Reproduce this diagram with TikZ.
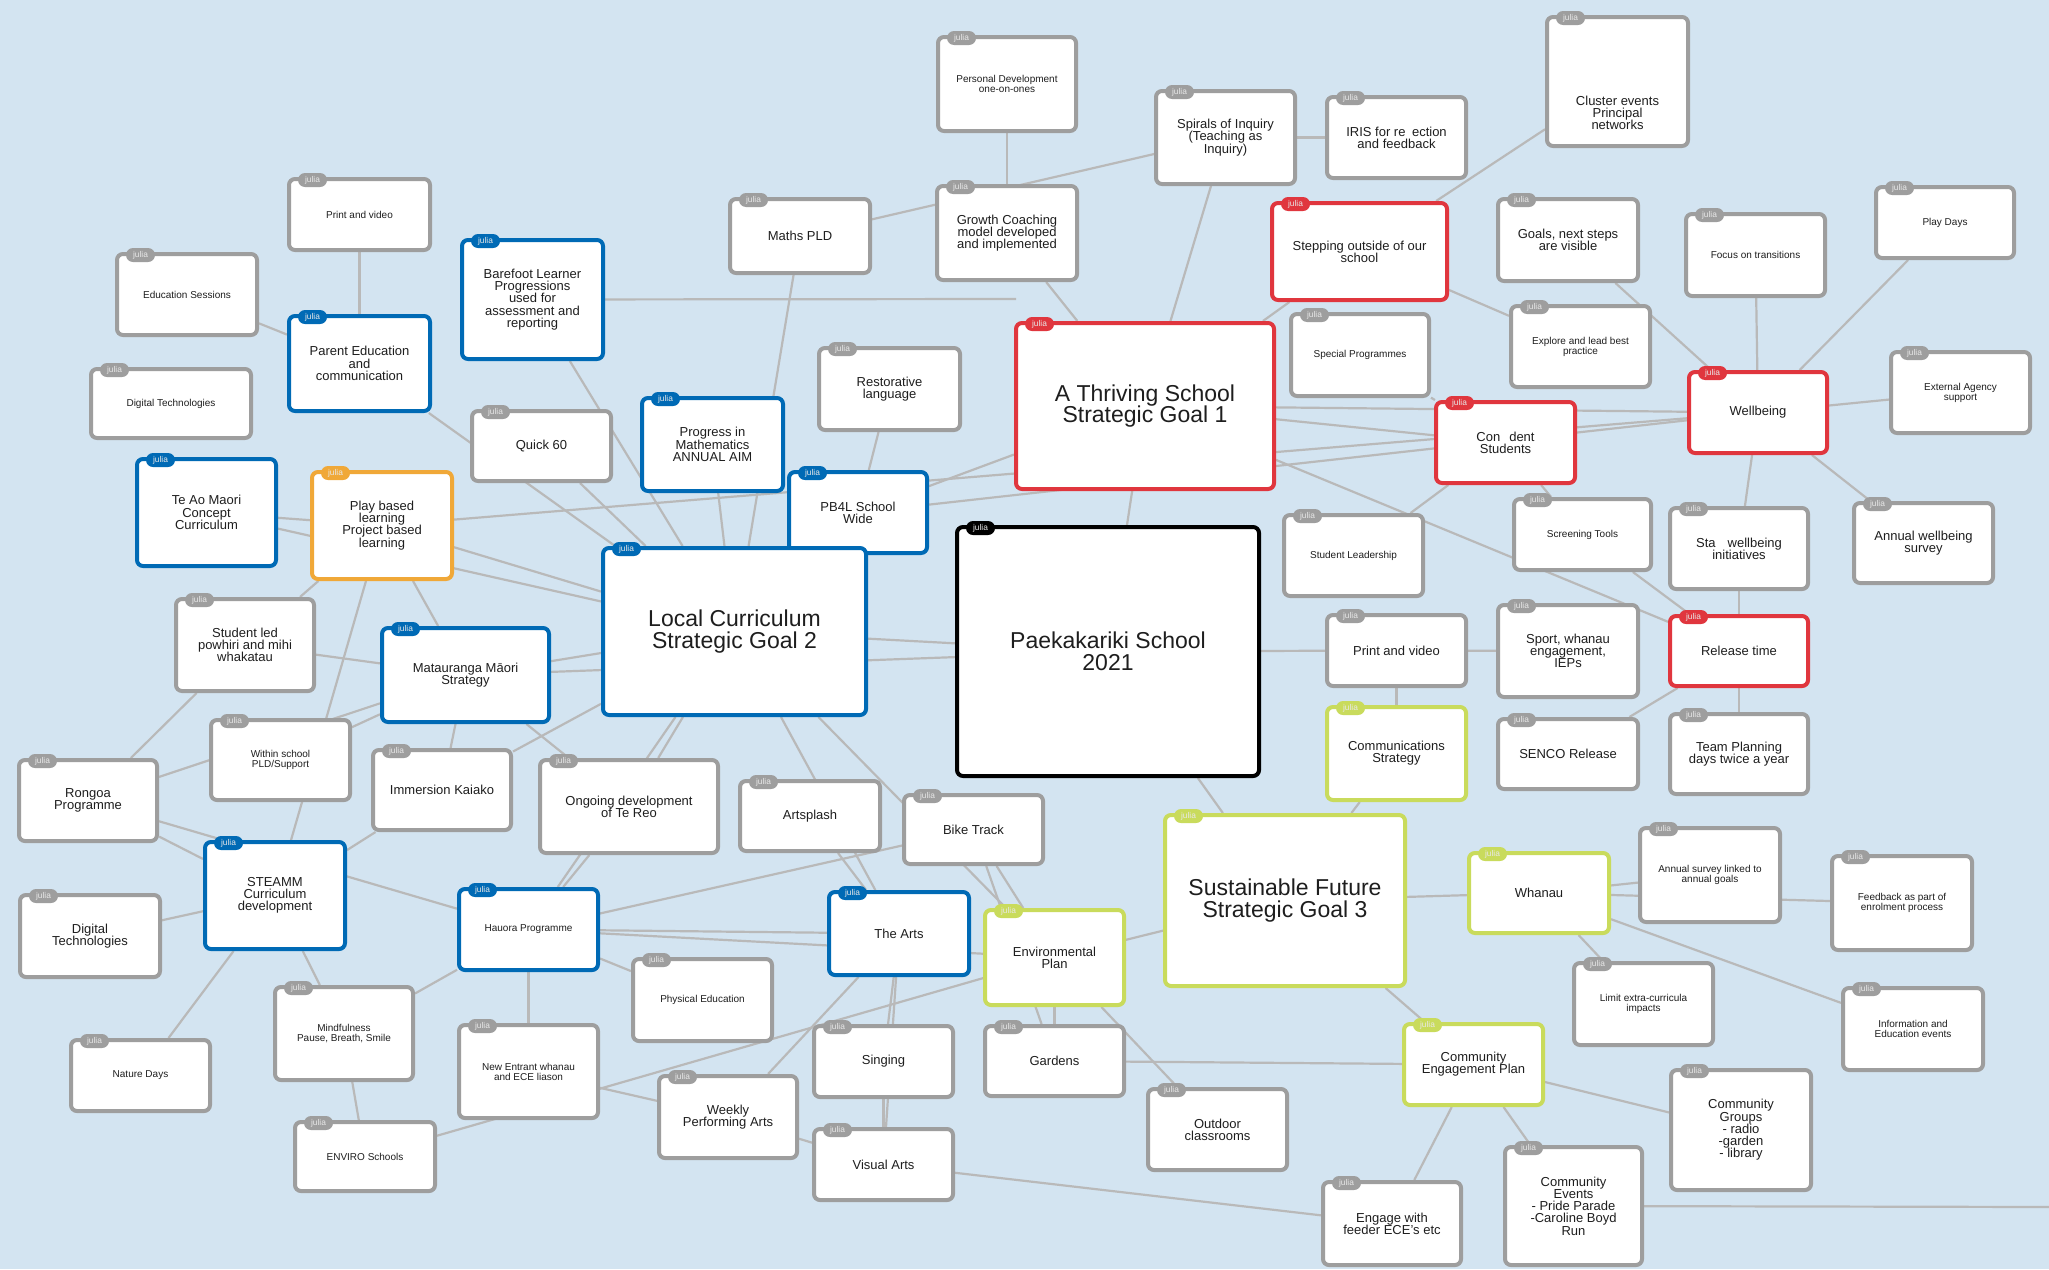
\documentclass[tikz,border=0pt]{standalone}
\usepackage{fontspec}
\setmainfont{Liberation Sans}
\usetikzlibrary{backgrounds}
\definecolor{bgblue}{HTML}{D3E4F1}
\definecolor{linkgrey}{HTML}{B9B9B9}
\definecolor{cardgrey}{HTML}{9E9E9E}
\definecolor{cardblue}{HTML}{006AB5}
\definecolor{cardred}{HTML}{E0363E}
\definecolor{cardorange}{HTML}{F0A838}
\definecolor{cardlime}{HTML}{C9DB5C}
\definecolor{cardblack}{HTML}{000000}
\definecolor{ink}{HTML}{1E1E1E}
\definecolor{tagtext}{HTML}{E8E8E8}

\begin{document}
\begin{tikzpicture}[x=1pt, y=-1pt,
					card/.style={draw=#1, fill=white, line width=4pt, rounded corners=6pt, align=center,
						text=ink, inner sep=2pt, label={[tagpill=#1]north west:julia}},
					tagpill/.style={fill=#1, text=tagtext, font=\fontsize{8.4}{8.4}\selectfont,
						rounded corners=7pt, minimum width=29pt, minimum height=14pt, inner sep=0pt,
						anchor=center, xshift=25.5pt, yshift=-3pt},
					gcard/.style={card=cardgrey},
					bcard/.style={card=cardblue},
					rcard/.style={card=cardred},
					ocard/.style={card=cardorange},
					lcard/.style={card=cardlime},
					kcard/.style={card=cardblack},
					txts/.style={font=\fontsize{10}{10}\selectfont},
					txtm/.style={font=\fontsize{13}{12.2}\selectfont},
					txtl/.style={font=\fontsize{23}{21.5}\selectfont},
					link/.style={draw=linkgrey, line width=2.2pt}]
				\useasboundingbox (0,0) rectangle (2049,1269);
				\node[gcard, txts, minimum width=141, minimum height=71] (pvtl) at (359.5,214.5) {Print and video};
				\node[gcard, txts, minimum width=140, minimum height=81] (edsess) at (187,294.5) {Education Sessions};
				\node[gcard, txts, minimum width=160, minimum height=69] (digtop) at (171,403.5) {Digital Technologies};
				\node[bcard, txtm, minimum width=141, minimum height=95] (parent) at (359.5,363.5) {Parent Education\\and\\communication};
				\node[bcard, txtm, minimum width=141, minimum height=119] (barefoot) at (532.5,299.5) {Barefoot Learner\\Progressions\\used for\\assessment and\\reporting};
				\node[gcard, txts, minimum width=138, minimum height=94] (persdev) at (1007,84) {Personal Development\\one-on-ones};
				\node[gcard, txtm, minimum width=140, minimum height=74] (maths) at (800,236) {Maths PLD};
				\node[gcard, txtm, minimum width=140, minimum height=94] (growth) at (1007,233) {Growth Coaching\\model developed\\and implemented};
				\node[gcard, txtm, minimum width=139, minimum height=93] (spirals) at (1225.5,137.5) {Spirals of Inquiry\\(Teaching as\\Inquiry)};
				\node[gcard, txtm, minimum width=139, minimum height=81] (iris) at (1396.5,137.5) {IRIS for re\hspace{6.5pt}ection\\and feedback};
				\node[gcard, txtm, minimum width=141, minimum height=129] (cluster) at (1617.5,81.5) {\rule{0pt}{72pt}Cluster events\\Principal\\networks};
				\node[rcard, txtm, minimum width=175, minimum height=97] (stepping) at (1359.5,251.5) {Stepping outside of our\\school};
				\node[gcard, txts, minimum width=138, minimum height=82] (special) at (1360,355) {Special Programmes};
				\node[gcard, txtm, minimum width=140, minimum height=82] (goals) at (1568,240) {Goals, next steps\\are visible};
				\node[gcard, txts, minimum width=139, minimum height=81] (explore) at (1580.5,346.5) {Explore and lead best\\practice};
				\node[gcard, txts, minimum width=139, minimum height=82] (focus) at (1755.5,255) {Focus on transitions};
				\node[gcard, txts, minimum width=138, minimum height=71] (playdays) at (1945,222.5) {Play Days};
				\node[rcard, txtm, minimum width=138, minimum height=81] (wellbeing) at (1758,412.5) {Wellbeing};
				\node[gcard, txts, minimum width=139, minimum height=81] (external) at (1960.5,392.5) {External Agency\\support};
				\node[rcard, txtl, minimum width=258, minimum height=166] (thriving) at (1145,406) {A Thriving School\\Strategic Goal 1};
				\node[rcard, txtm, minimum width=139, minimum height=81] (confident) at (1505.5,442.5) {Con\hspace{9pt}dent\\Students};
				\node[gcard, txtm, minimum width=141, minimum height=82] (restor) at (889.5,389) {Restorative\\language};
				\node[gcard, txtm, minimum width=139, minimum height=70] (quick) at (541.5,446) {Quick 60};
				\node[bcard, txtm, minimum width=141, minimum height=93] (progress) at (712.5,444.5) {Progress in\\Mathematics\\ANNUAL AIM};
				\node[bcard, txtm, minimum width=138, minimum height=81] (pbfl) at (858,512.5) {PB4L School\\Wide};
				\node[bcard, txtm, minimum width=139, minimum height=107] (teao) at (206.5,512.5) {Te Ao Maori\\Concept\\Curriculum};
				\node[ocard, txtm, minimum width=140, minimum height=107] (playbased) at (382,525.5) {Play based\\learning\\Project based\\learning};
				\node[bcard, txtl, minimum width=263, minimum height=167] (local) at (734.5,631.5) {Local Curriculum\\Strategic Goal 2};
				\node[kcard, txtl, minimum width=302, minimum height=249] (paek) at (1108,651.5) {Paekakariki School\\2021};
				\node[gcard, txts, minimum width=139, minimum height=81] (stuleader) at (1353.5,555.5) {Student Leadership};
				\node[gcard, txts, minimum width=137, minimum height=71] (screening) at (1582.5,534.5) {Screening Tools};
				\node[gcard, txtm, minimum width=138, minimum height=81] (staff) at (1739,548.5) {Sta\hspace{12pt}wellbeing\\initiatives};
				\node[gcard, txtm, minimum width=139, minimum height=80] (annualwb) at (1923.5,543) {Annual wellbeing\\survey};
				\node[gcard, txtm, minimum width=138, minimum height=92] (stuled) at (245,645) {Student led\\powhiri and mihi\\whakatau};
				\node[bcard, txtm, minimum width=167, minimum height=94] (matauranga) at (465.5,675) {Matauranga Māori\\Strategy};
				\node[gcard, txtm, minimum width=139, minimum height=71] (pvright) at (1396.5,650.5) {Print and video};
				\node[gcard, txtm, minimum width=140, minimum height=92] (sport) at (1568,651) {Sport, whanau\\engagement,\\IEPs};
				\node[rcard, txtm, minimum width=138, minimum height=70] (release) at (1739,651) {Release time};
				\node[gcard, txts, minimum width=139, minimum height=80] (withinpld) at (280.5,760) {Within school\\PLD/Support};
				\node[gcard, txtm, minimum width=138, minimum height=81] (rongoa) at (88,800.5) {Rongoa\\Programme};
				\node[gcard, txtm, minimum width=138, minimum height=80] (immersion) at (442,790) {Immersion Kaiako};
				\node[gcard, txtm, minimum width=178, minimum height=93] (ongoing) at (629,806.5) {Ongoing development\\of Te Reo};
				\node[gcard, txtm, minimum width=140, minimum height=70] (artsplash) at (810,816) {Artsplash};
				\node[lcard, txtm, minimum width=139, minimum height=93] (comms) at (1396.5,753.5) {Communications\\Strategy};
				\node[gcard, txtm, minimum width=140, minimum height=70] (senco) at (1568,754) {SENCO Release};
				\node[gcard, txtm, minimum width=138, minimum height=80] (team) at (1739,754) {Team Planning\\days twice a year};
				\node[gcard, txtm, minimum width=139, minimum height=69] (bike) at (973.5,829.5) {Bike Track};
				\node[bcard, txtm, minimum width=140, minimum height=107] (steamm) at (275,895.5) {STEAMM\\Curriculum\\development};
				\node[gcard, txtm, minimum width=140, minimum height=82] (digbot) at (90,936) {Digital\\Technologies};
				\node[bcard, txts, minimum width=139, minimum height=81] (hauora) at (528.5,929.5) {Hauora Programme};
				\node[bcard, txtm, minimum width=140, minimum height=83] (thearts) at (899,933.5) {The Arts};
				\node[lcard, txtm, minimum width=139, minimum height=95] (envplan) at (1054.5,957.5) {Environmental\\Plan};
				\node[lcard, txtl, minimum width=240, minimum height=171] (sustain) at (1285,900.5) {Sustainable Future\\Strategic Goal 3};
				\node[lcard, txtm, minimum width=140, minimum height=80] (whanau) at (1539,893) {Whanau};
				\node[gcard, txts, minimum width=140, minimum height=94] (annualsurvey) at (1710,875) {Annual survey linked to\\annual goals};
				\node[gcard, txts, minimum width=140, minimum height=94] (feedback) at (1902,903) {Feedback as part of\\enrolment process};
				\node[gcard, txts, minimum width=139, minimum height=82] (physed) at (702.5,1000) {Physical Education};
				\node[gcard, txts, minimum width=138, minimum height=93] (mindful) at (344,1033.5) {Mindfulness\\Pause, Breath, Smile};
				\node[gcard, txts, minimum width=139, minimum height=71] (nature) at (140.5,1075.5) {Nature Days};
				\node[gcard, txts, minimum width=139, minimum height=93] (newentrant) at (528.5,1071.5) {New Entrant whanau\\and ECE liason};
				\node[gcard, txtm, minimum width=139, minimum height=71] (singing) at (883.5,1061.5) {Singing};
				\node[gcard, txtm, minimum width=139, minimum height=70] (gardens) at (1054.5,1061) {Gardens};
				\node[gcard, txtm, minimum width=139, minimum height=81] (outdoor) at (1217.5,1129.5) {Outdoor\\classrooms};
				\node[gcard, txts, minimum width=139, minimum height=82] (limit) at (1643.5,1004) {Limit extra-curricula\\impacts};
				\node[gcard, txts, minimum width=140, minimum height=82] (info) at (1913,1029) {Information and\\Education events};
				\node[lcard, txtm, minimum width=139, minimum height=81] (cep) at (1473.5,1064.5) {Community\\Engagement Plan};
				\node[gcard, txtm, minimum width=138, minimum height=82] (weekly) at (728,1117) {Weekly\\Performing Arts};
				\node[gcard, txtm, minimum width=139, minimum height=71] (visual) at (883.5,1164.5) {Visual Arts};
				\node[gcard, txts, minimum width=140, minimum height=69] (enviro) at (365,1156.5) {ENVIRO Schools};
				\node[gcard, txtm, minimum width=140, minimum height=120] (cgroups) at (1741,1130) {Community\\Groups\\- radio\\-garden\\- library};
				\node[gcard, txtm, minimum width=138, minimum height=83] (engage) at (1392,1223.5) {Engage with\\feeder ECE's etc};
				\node[gcard, txtm, minimum width=137, minimum height=118] (cevents) at (1573.5,1206) {Community\\Events\\- Pride Parade\\-Caroline Boyd\\Run};
				\coordinate (barefootend) at (1016,299);
				\coordinate (eventsend) at (2049,1207);
				\begin{scope}[on background layer]
					\fill[bgblue] (0,0) rectangle (2049,1269);
					\foreach \a/\b in {pvtl/parent, edsess/parent, parent/local, barefoot/barefootend, barefoot/local,
						maths/spirals, maths/local, persdev/growth, growth/thriving, spirals/thriving, spirals/iris,
						stepping/cluster, stepping/thriving, stepping/explore, goals/wellbeing, focus/wellbeing,
						playdays/wellbeing, external/wellbeing, wellbeing/staff, wellbeing/annualwb, staff/release,
						release/team, release/senco, screening/release, thriving/release, thriving/confident,
						thriving/wellbeing, playbased/wellbeing, pbfl/wellbeing, pbfl/thriving, confident/stuleader,
						confident/screening, special/confident, thriving/paek, restor/pbfl, progress/local, quick/local,
						teao/local, teao/playbased, playbased/local, playbased/stuled, playbased/matauranga,
						playbased/steamm, matauranga/local, matauranga/paek, local/paek, local/ongoing, local/hauora,
						ongoing/hauora, local/thearts, artsplash/thearts, local/envplan, bike/envplan, bike/gardens,
						envplan/gardens, envplan/outdoor, gardens/cep, envplan/sustain, sustain/whanau, sustain/cep,
						sustain/paek, sustain/comms, comms/pvright, pvright/paek, pvright/sport, cep/engage,
						cep/cevents, cep/cgroups, cevents/eventsend, whanau/feedback, whanau/annualsurvey,
						whanau/limit, whanau/info, visual/engage, weekly/visual, singing/visual, thearts/singing,
						thearts/visual, thearts/weekly, newentrant/weekly, enviro/envplan, hauora/newentrant,
						hauora/physed, hauora/thearts, hauora/envplan, hauora/bike, hauora/mindful, mindful/enviro,
						steamm/mindful, steamm/nature, steamm/digbot, steamm/rongoa, steamm/immersion, rongoa/hauora,
						stuled/matauranga, stuled/rongoa, rongoa/matauranga, withinpld/matauranga,
						matauranga/immersion, immersion/local, matauranga/ongoing}
						\draw[link] (\a) -- (\b);
				\end{scope}
			\end{tikzpicture}
\end{document}
